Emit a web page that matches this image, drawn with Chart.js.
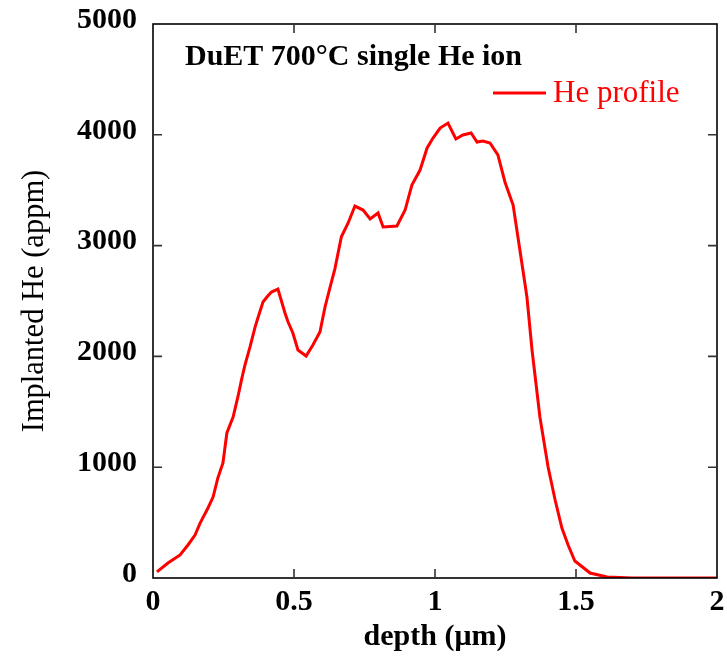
<!DOCTYPE html>
<html>
<head>
<meta charset="utf-8">
<script src="https://cdn.jsdelivr.net/npm/chart.js@4.4.1/dist/chart.umd.min.js"></script>
<style>
  html, body { margin: 0; padding: 0; background: #ffffff; }
  #wrap { width: 727px; height: 661px; position: relative; }
</style>
</head>
<body>
<div id="wrap"><canvas id="c" width="727" height="661"></canvas></div>
<script>
// ---- data ----
const depthUm = [0.014, 0.053, 0.096, 0.124, 0.149, 0.167, 0.195, 0.213, 0.23, 0.248, 0.262, 0.284, 0.301, 0.314,
  0.326, 0.344, 0.362, 0.373, 0.39, 0.404, 0.42, 0.443, 0.468, 0.479, 0.496, 0.514, 0.543, 0.567, 0.592,
  0.61, 0.628, 0.645, 0.668, 0.692, 0.716, 0.745, 0.77, 0.798, 0.816, 0.865, 0.894, 0.918, 0.947, 0.972,
  0.993, 1.018, 1.046, 1.074, 1.099, 1.128, 1.149, 1.17, 1.195, 1.223, 1.248, 1.277, 1.301, 1.326, 1.344,
  1.372, 1.401, 1.426, 1.45, 1.472, 1.496, 1.55, 1.61, 1.7, 2.0];
const heAppm = [55, 135, 208, 298, 388, 496, 632, 731, 903, 1038, 1309, 1453, 1634, 1790,
  1922, 2085, 2265, 2355, 2491, 2536, 2581, 2608, 2392, 2310, 2211, 2058, 2004, 2103, 2220,
  2446, 2626, 2790, 3080, 3204, 3357, 3321, 3240, 3294, 3168, 3177, 3321, 3547, 3682, 3881,
  3971, 4061, 4106, 3962, 3998, 4016, 3935, 3944, 3926, 3818, 3574, 3366, 2960, 2536, 2058,
  1453, 1002, 704, 451, 298, 153, 45, 9, 0, 0];
const xTicks = [0, 0.5, 1, 1.5, 2];
const yTicks = [0, 1000, 2000, 3000, 4000, 5000];
const seriesLabel = "He profile";
const chartTitle = "DuET 700°C single He ion";
const xTitle = "depth (μm)";
const yTitle = "Implanted He (appm)";

const points = depthUm.map((d, i) => ({ x: d, y: heAppm[i] }));
const SERIF = "'Liberation Serif', 'DejaVu Serif', serif";

const framePlugin = {
  id: 'frame',
  afterDatasetsDraw(chart) {
    const { ctx, chartArea: a, scales } = chart;
    ctx.save();
    ctx.strokeStyle = '#000';
    ctx.lineWidth = 1.6;
    ctx.strokeRect(a.left, a.top, a.right - a.left, a.bottom - a.top);
    ctx.strokeStyle = '#333';
    ctx.lineWidth = 1.6;
    const tl = 9;
    ctx.beginPath();
    xTicks.forEach(v => {
      const px = scales.x.getPixelForValue(v);
      if (px <= a.left + 1 || px >= a.right - 1) return;
      ctx.moveTo(px, a.bottom); ctx.lineTo(px, a.bottom - tl);
      ctx.moveTo(px, a.top); ctx.lineTo(px, a.top + tl);
    });
    yTicks.forEach(v => {
      const py = scales.y.getPixelForValue(v);
      if (py <= a.top + 1 || py >= a.bottom - 1) return;
      ctx.moveTo(a.left, py); ctx.lineTo(a.left + tl, py);
      ctx.moveTo(a.right, py); ctx.lineTo(a.right - tl, py);
    });
    ctx.stroke();

    // title
    ctx.fillStyle = '#000';
    ctx.font = "bold 30px " + SERIF;
    ctx.textBaseline = 'alphabetic';
    ctx.textAlign = 'left';
    ctx.fillText(chartTitle, 185, 65);

    // legend
    const ds = chart.data.datasets[0];
    ctx.strokeStyle = ds.borderColor;
    ctx.lineWidth = 3;
    ctx.beginPath();
    ctx.moveTo(493, 93); ctx.lineTo(546, 93);
    ctx.stroke();
    ctx.fillStyle = ds.borderColor;
    ctx.font = "31px " + SERIF;
    ctx.fillText(ds.label, 553, 102);
    ctx.restore();
  }
};

new Chart(document.getElementById('c'), {
  type: 'line',
  data: {
    datasets: [{
      label: seriesLabel,
      data: points,
      borderColor: '#ff0000',
      borderWidth: 3,
      pointRadius: 0,
      tension: 0,
      fill: false
    }]
  },
  options: {
    responsive: false,
    animation: false,
    devicePixelRatio: 1,
    layout: { padding: { top: 24, right: 10, left: 0, bottom: 0 } },
    plugins: { legend: { display: false }, tooltip: { enabled: false } },
    scales: {
      x: {
        type: 'linear', min: 0, max: 2,
        afterBuildTicks: s => { s.ticks = xTicks.map(v => ({ value: v })); },
        afterFit: s => { s.height = 83; s.paddingLeft = 0; s.paddingRight = 0; },
        grid: { display: false, drawTicks: false },
        border: { display: false },
        ticks: {
          color: '#000', padding: 6, maxRotation: 0,
          font: { family: SERIF, size: 30, weight: 'bold' },
          callback: v => String(v)
        },
        title: {
          display: true, text: xTitle, color: '#000',
          font: { family: SERIF, size: 30, weight: 'bold' },
          padding: { top: 0, bottom: 6 }
        }
      },
      y: {
        type: 'linear', min: 0, max: 5000,
        afterBuildTicks: s => { s.ticks = yTicks.map(v => ({ value: v })); },
        afterFit: s => { s.width = 153; s.paddingTop = 0; s.paddingBottom = 0; },
        grid: { display: false, drawTicks: false },
        border: { display: false },
        ticks: {
          color: '#000', padding: 16, labelOffset: -4,
          font: { family: SERIF, size: 30, weight: 'bold' },
          callback: v => String(v)
        },
        title: {
          display: true, text: yTitle, color: '#000',
          font: { family: SERIF, size: 30.5, weight: 'normal' },
          padding: { top: 17, bottom: 0 }
        }
      }
    }
  },
  plugins: [framePlugin]
});
</script>
</body>
</html>
